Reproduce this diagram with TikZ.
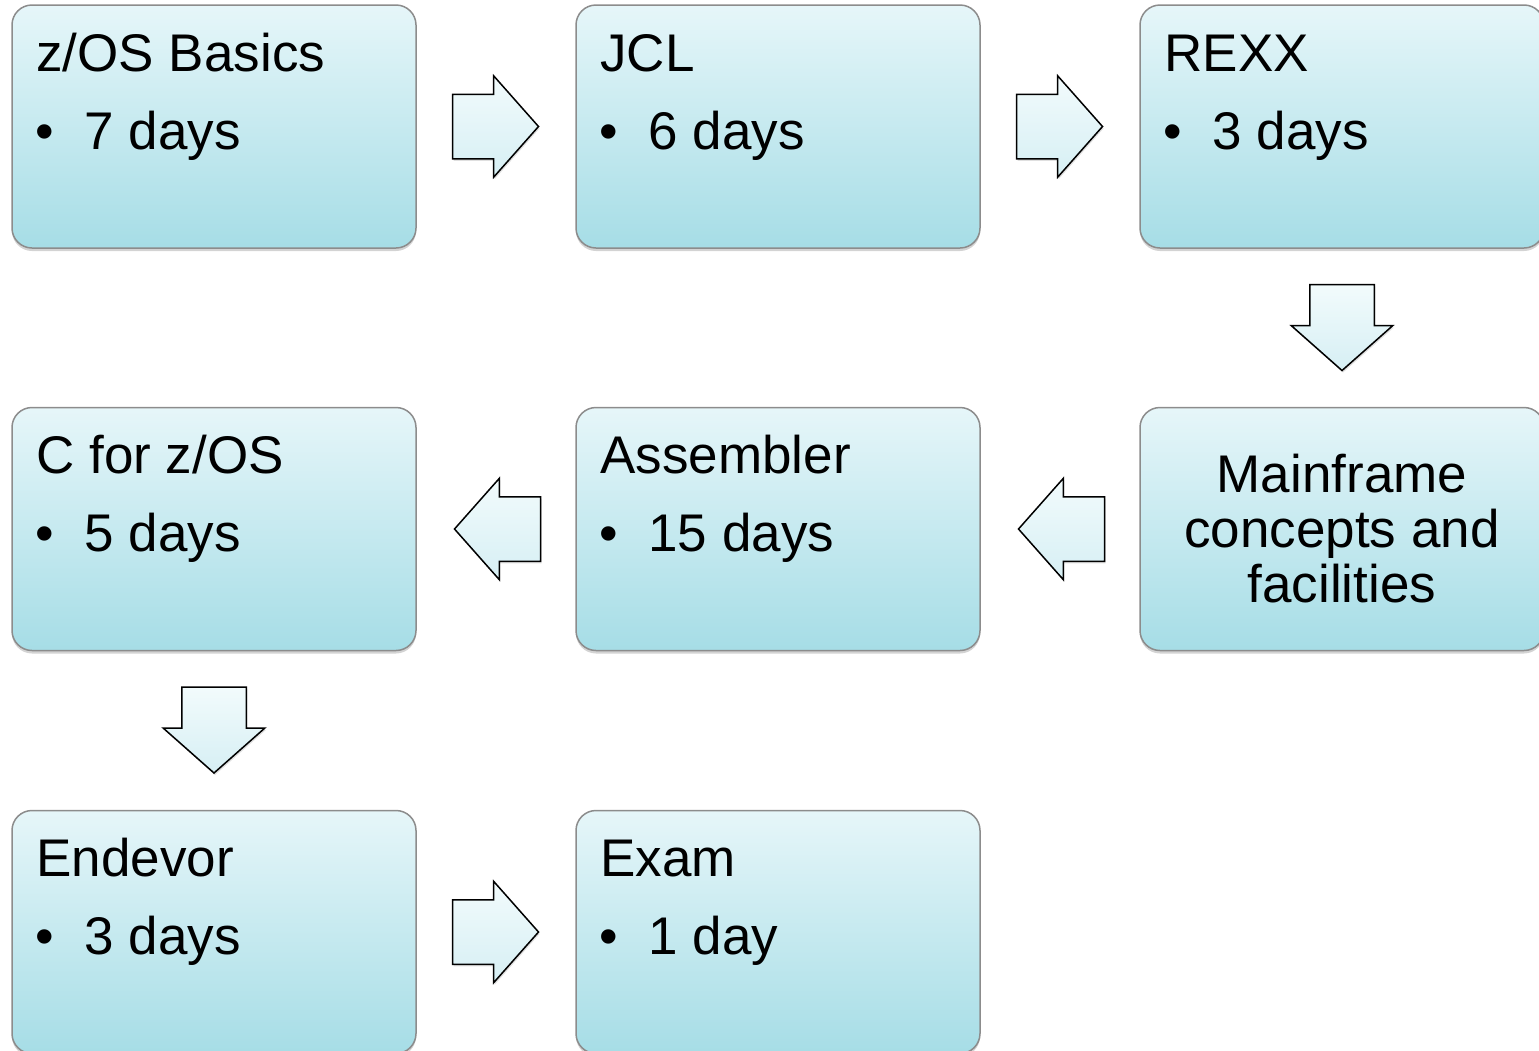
\documentclass[tikz,border=0pt]{standalone}
\usepackage{fontspec}
\setmainfont{Liberation Sans}
\usepackage{tikz}
\usetikzlibrary{positioning,shapes,shapes.arrows,calc,shadows}
\definecolor{boxtop}{HTML}{E6F6F9}
\definecolor{boxbot}{HTML}{A6DDE6}
\definecolor{arrtop}{HTML}{F2FBFC}
\definecolor{arrbot}{HTML}{D6EFF4}

\begin{document}
\begin{tikzpicture}[x=1pt,y=-1pt,
  every node/.style={font=\fontsize{53}{55}\selectfont},
  course/.style={rectangle, rounded corners=20pt, draw=black!45, line width=1.5pt,
    minimum width=404pt, minimum height=243pt, top color=boxtop, bottom color=boxbot,
    drop shadow={opacity=0.35, shadow xshift=0pt, shadow yshift=-3pt}},
  lbl/.style={anchor=base west, inner sep=0pt},
  barrow/.style={single arrow, draw=black, line width=1.5pt, anchor=tail, inner xsep=0pt, inner ysep=31.5pt,
    minimum height=86pt, minimum width=100pt, single arrow head extend=18.5pt,
    single arrow tip angle=97, top color=arrtop, bottom color=arrbot,
    drop shadow={opacity=0.25, shadow xshift=1pt, shadow yshift=-2pt}},
  darrow/.style={barrow, shape border rotate=270, inner xsep=31.5pt, inner ysep=0pt}]
  \useasboundingbox (0,0) rectangle (1539,1050);
  \clip (0,0) rectangle (1539,1050);

\node at (214,126.5) [course] (zos) {};
\node at ($(zos.north west)+(25,67)$) [lbl] (zosT) {z/OS Basics};
\node at ($(zos.north west)+(24,145)$) [lbl] (zosD) {•};
\node at ($(zos.north west)+(73,145)$) [lbl] (zosN) {7 days};

\node at (778,126.5) [course] (jcl) {};
\node at ($(jcl.north west)+(25,67)$) [lbl] (jclT) {JCL};
\node at ($(jcl.north west)+(24,145)$) [lbl] (jclD) {•};
\node at ($(jcl.north west)+(73,145)$) [lbl] (jclN) {6 days};

\node at (1342,126.5) [course] (rexx) {};
\node at ($(rexx.north west)+(25,67)$) [lbl] (rexxT) {REXX};
\node at ($(rexx.north west)+(24,145)$) [lbl] (rexxD) {•};
\node at ($(rexx.north west)+(73,145)$) [lbl] (rexxN) {3 days};

\node at (1342,529) [course, align=center] (mfc) {Mainframe\\concepts and\\facilities};

\node at (778,529) [course] (asm) {};
\node at ($(asm.north west)+(25,67)$) [lbl] (asmT) {Assembler};
\node at ($(asm.north west)+(24,145)$) [lbl] (asmD) {•};
\node at ($(asm.north west)+(73,145)$) [lbl] (asmN) {15 days};

\node at (214,529) [course] (czos) {};
\node at ($(czos.north west)+(25,67)$) [lbl] (czosT) {C for z/OS};
\node at ($(czos.north west)+(24,145)$) [lbl] (czosD) {•};
\node at ($(czos.north west)+(73,145)$) [lbl] (czosN) {5 days};

\node at (214,932) [course] (endv) {};
\node at ($(endv.north west)+(25,67)$) [lbl] (endvT) {Endevor};
\node at ($(endv.north west)+(24,145)$) [lbl] (endvD) {•};
\node at ($(endv.north west)+(73,145)$) [lbl] (endvN) {3 days};

\node at (778,932) [course] (exam) {};
\node at ($(exam.north west)+(25,67)$) [lbl] (examT) {Exam};
\node at ($(exam.north west)+(24,145)$) [lbl] (examD) {•};
\node at ($(exam.north west)+(73,145)$) [lbl] (examN) {1 day};

  % block arrows between the courses
\node at ($(zos.east)+(35,0)$) [barrow] (a1) {};
\node at ($(jcl.east)+(35,0)$) [barrow] (a2) {};
\node at ($(rexx.south)+(0,35)$) [darrow] (a3) {};
\node at ($(mfc.west)+(-34,0)$) [barrow, shape border rotate=180] (a4) {};
\node at ($(asm.west)+(-34,0)$) [barrow, shape border rotate=180] (a5) {};
\node at ($(czos.south)+(0,35)$) [darrow] (a6) {};
\node at ($(endv.east)+(35,0)$) [barrow] (a7) {};
\end{tikzpicture}
\end{document}
